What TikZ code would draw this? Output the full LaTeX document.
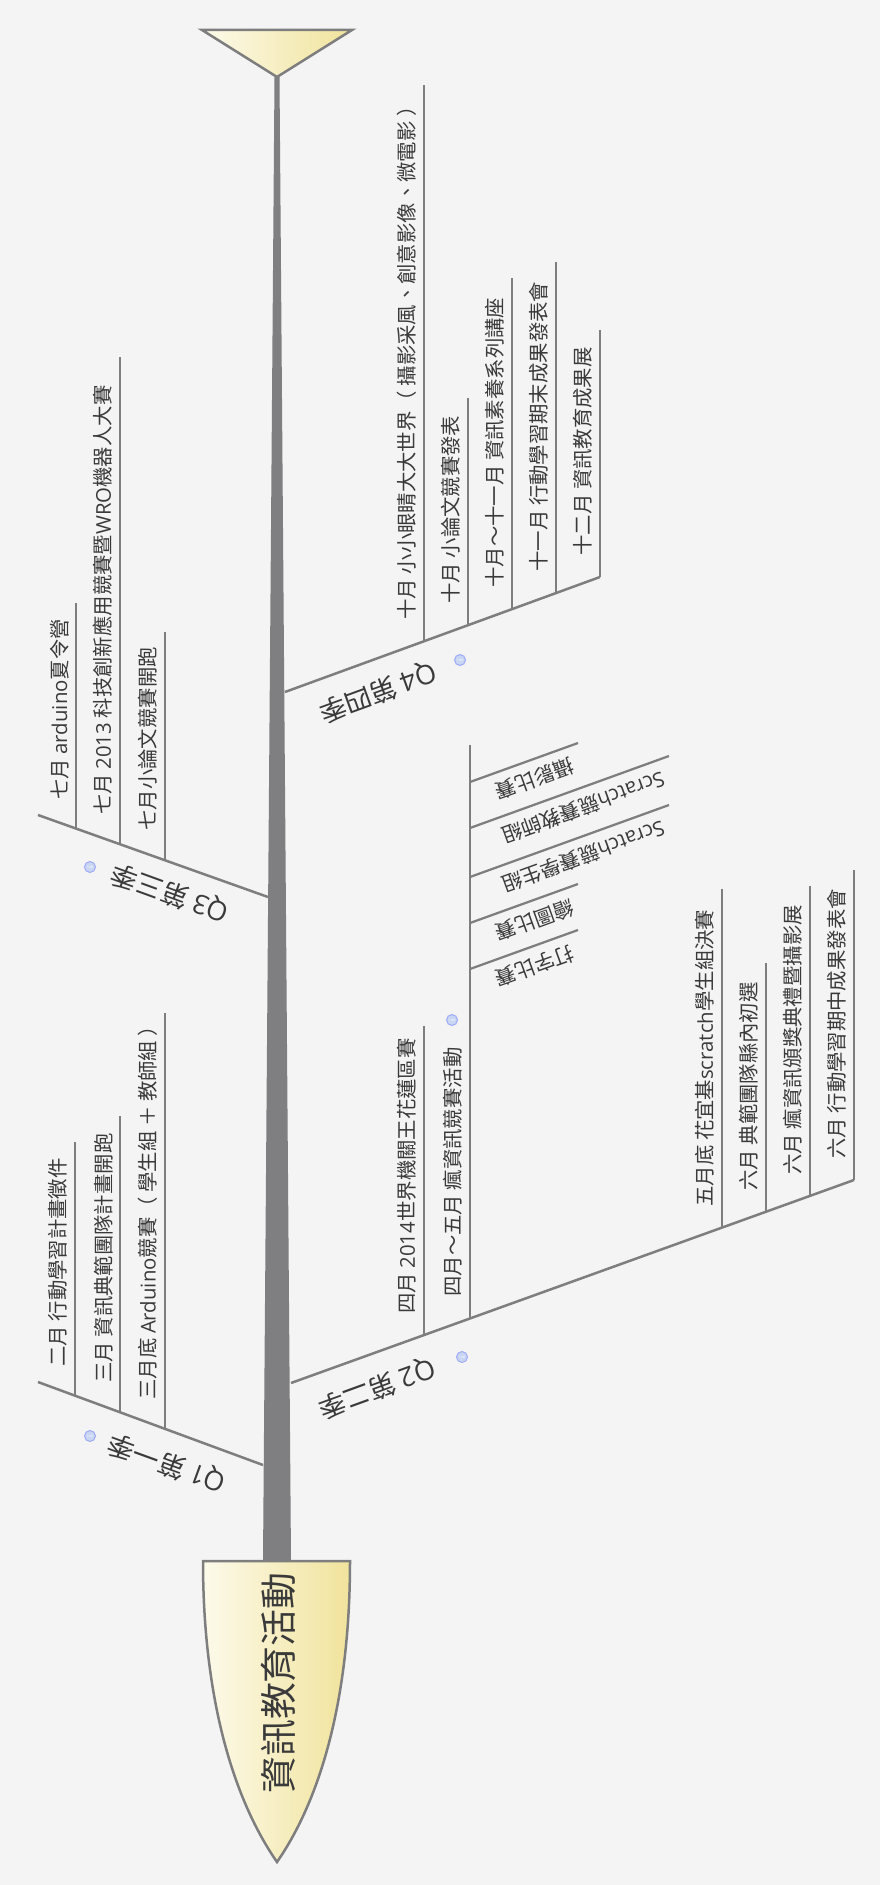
\documentclass[tikz,border=0pt]{standalone}
\usepackage{fontspec}
\setmainfont{Noto Sans CJK TC}
\newfontfamily\enFont{Open Sans}
\newcommand{\en}[1]{{\enFont #1}}
\usepackage{tikz}
\usetikzlibrary{shapes}
\definecolor{bgGray}{HTML}{F4F4F4}
\definecolor{lineGray}{HTML}{7E7E7E}
\definecolor{spineGray}{HTML}{7F7F82}
\definecolor{textGray}{HTML}{3A3A3A}
\definecolor{headLight}{HTML}{FCFAEA}
\definecolor{headDark}{HTML}{F1E39C}
\definecolor{infoBlue}{HTML}{C8D5F3}
\newcommand{\topicSize}{\fontsize{11.6pt}{14pt}\selectfont}
\newcommand{\seasonSize}{\fontsize{15.3pt}{18pt}\selectfont}
\newcommand{\headSize}{\fontsize{21pt}{25pt}\selectfont}
\tikzstyle{bone} = [draw=lineGray, line width=0.05cm]
\tikzstyle{rib} = [draw=lineGray, line width=0.045cm]
\tikzstyle{fishHead} = [draw=lineGray, line width=0.05cm, left color=headLight, right color=headDark]
\tikzstyle{topic} = [anchor=south west, rotate=90, inner xsep=0.42cm, inner ysep=0.14cm, text=textGray, font=\topicSize]
\tikzstyle{topicLeft} = [topic, inner xsep=0.58cm]
\tikzstyle{twig} = [anchor=south west, rotate=200, inner xsep=0.24cm, inner ysep=0.19cm, text=textGray, font=\topicSize]
\tikzstyle{season} = [inner sep=0, text=textGray, font=\seasonSize]
\tikzstyle{info} = [circle, rotate=90, fill=infoBlue, draw=infoBlue!80!blue, line width=0.02cm, minimum size=0.22cm, inner sep=0, text=white, font=\fontsize{4.5pt}{5pt}\selectfont]

\begin{document}
\begin{tikzpicture}[x=0.02cm, y=-0.02cm]
        \fill [bgGray] (0,0) rectangle (880,1885);
        \useasboundingbox (0,0) rectangle (880,1885);

        \coordinate (tailTip) at (277,77);
        \coordinate (spineTopL) at (274.5,77);
        \coordinate (spineTopR) at (279.5,77);
        \coordinate (spineBotL) at (263,1561);
        \coordinate (spineBotR) at (291,1561);
        \fill [spineGray] (spineTopL) -- (spineTopR) -- (spineBotR) -- (spineBotL) -- cycle;
        \path [fishHead] (202,30) -- (352,30) -- (tailTip) -- cycle;
        \path [fishHead] (203,1561) -- (350,1561) .. controls (350,1700) and (320,1800) .. (277,1862) .. controls (234,1800) and (203,1700) .. (203,1561) -- cycle;
        \node [rotate=90, text=textGray, font=\headSize] (head) at (278,1683) {資訊教育活動};

        \coordinate (q1Root) at (263,1465);
        \coordinate (q1End) at (38,1382);
        \coordinate (q1a) at (75,1396);
        \coordinate (q1aTop) at (75,1142);
        \coordinate (q1b) at (120,1412);
        \coordinate (q1bTop) at (120,1116);
        \coordinate (q1c) at (165,1429);
        \coordinate (q1cTop) at (165,1013);
        \node [season, rotate=160] (q1Label) at (167,1463) {\en{Q1} 第一季};
        \node [info] (q1Info) at (90,1436) {i};
        \node [topicLeft] (q1aText) at (q1a) {二月 行動學習計畫徵件};
        \node [topicLeft] (q1bText) at (q1b) {三月 資訊典範團隊計畫開跑};
        \node [topicLeft] (q1cText) at (q1c) {三月底 \en{Arduino}競賽（ 學生組 ＋ 教師組 ）};
        \path [bone] (q1Root) edge (q1End);
        \path [rib] (q1a) edge (q1aTop);
        \path [rib] (q1b) edge (q1bTop);
        \path [rib] (q1c) edge (q1cTop);

        \coordinate (q2Root) at (291,1383);
        \coordinate (q2End) at (854,1180);
        \coordinate (q2a) at (424,1335);
        \coordinate (q2aTop) at (424,1026);
        \coordinate (q2b) at (470,1318);
        \coordinate (q2bTop) at (470,745);
        \coordinate (q2c) at (722,1228);
        \coordinate (q2cTop) at (722,889);
        \coordinate (q2d) at (766,1212);
        \coordinate (q2dTop) at (766,963);
        \coordinate (q2e) at (810,1196);
        \coordinate (q2eTop) at (810,886);
        \coordinate (q2fTop) at (854,870);
        \node [season, rotate=200] (q2Label) at (377,1388) {\en{Q2} 第二季};
        \node [info] (q2Info) at (462,1357) {i};
        \node [topic] (q2aText) at (q2a) {四月 \en{2014}世界機關王花蓮區賽};
        \node [topic] (q2bText) at (q2b) {四月～五月 瘋資訊競賽活動};
        \node [info] (q2bInfo) at (452,1020) {i};
        \node [topic] (q2cText) at (q2c) {五月底 花宜基\en{scratch}學生組決賽};
        \node [topic] (q2dText) at (q2d) {六月 典範團隊縣內初選};
        \node [topic] (q2eText) at (q2e) {六月 瘋資訊頒獎典禮暨攝影展};
        \node [topic] (q2fText) at (q2End) {六月 行動學習期中成果發表會};
        \path [bone] (q2Root) edge (q2End);
        \path [rib] (q2a) edge (q2aTop);
        \path [rib] (q2b) edge (q2bTop);
        \path [rib] (q2c) edge (q2cTop);
        \path [rib] (q2d) edge (q2dTop);
        \path [rib] (q2e) edge (q2eTop);
        \path [rib] (q2End) edge (q2fTop);

        \coordinate (tw1a) at (470,782);
        \coordinate (tw1b) at (578,743);
        \coordinate (tw2a) at (470,828);
        \coordinate (tw2b) at (669,756);
        \coordinate (tw3a) at (470,877);
        \coordinate (tw3b) at (669,805);
        \coordinate (tw4a) at (470,923);
        \coordinate (tw4b) at (578,884);
        \coordinate (tw5a) at (470,969);
        \coordinate (tw5b) at (578,930);
        \node [twig] (tw1Text) at (tw1b) {攝影比賽};
        \node [twig] (tw2Text) at (tw2b) {\en{Scratch}競賽教師組};
        \node [twig] (tw3Text) at (tw3b) {\en{Scratch}競賽學生組};
        \node [twig] (tw4Text) at (tw4b) {繪圖比賽};
        \node [twig] (tw5Text) at (tw5b) {打字比賽};
        \path [rib] (tw1a) edge (tw1b);
        \path [rib] (tw2a) edge (tw2b);
        \path [rib] (tw3a) edge (tw3b);
        \path [rib] (tw4a) edge (tw4b);
        \path [rib] (tw5a) edge (tw5b);

        \coordinate (q3Root) at (268,897);
        \coordinate (q3End) at (38,815);
        \coordinate (q3a) at (76,829);
        \coordinate (q3aTop) at (76,603);
        \coordinate (q3b) at (120,844);
        \coordinate (q3bTop) at (120,357);
        \coordinate (q3c) at (165,860);
        \coordinate (q3cTop) at (165,632);
        \node [season, rotate=160] (q3Label) at (170,893) {\en{Q3} 第三季};
        \node [info] (q3Info) at (90,867) {i};
        \node [topicLeft] (q3aText) at (q3a) {七月 \en{arduino}夏令營};
        \node [topicLeft] (q3bText) at (q3b) {七月 \en{2013} 科技創新應用競賽暨\en{WRO}機器人大賽};
        \node [topicLeft] (q3cText) at (q3c) {七月小論文競賽開跑};
        \path [bone] (q3Root) edge (q3End);
        \path [rib] (q3a) edge (q3aTop);
        \path [rib] (q3b) edge (q3bTop);
        \path [rib] (q3c) edge (q3cTop);

        \coordinate (q4Root) at (285,692);
        \coordinate (q4End) at (600,577);
        \coordinate (q4a) at (424,641);
        \coordinate (q4aTop) at (424,85);
        \coordinate (q4b) at (468,625);
        \coordinate (q4bTop) at (468,398);
        \coordinate (q4c) at (512,609);
        \coordinate (q4cTop) at (512,278);
        \coordinate (q4d) at (556,593);
        \coordinate (q4dTop) at (556,262);
        \coordinate (q4eTop) at (600,330);
        \node [season, rotate=200] (q4Label) at (378,692) {\en{Q4} 第四季};
        \node [info] (q4Info) at (460,660) {i};
        \node [topic] (q4aText) at (q4a) {十月 小小眼睛大大世界（ 攝影采風、創意影像、微電影 ）};
        \node [topic] (q4bText) at (q4b) {十月 小論文競賽發表};
        \node [topic] (q4cText) at (q4c) {十月～十一月 資訊素養系列講座};
        \node [topic] (q4dText) at (q4d) {十一月 行動學習期末成果發表會};
        \node [topic] (q4eText) at (q4End) {十二月 資訊教育成果展};
        \path [bone] (q4Root) edge (q4End);
        \path [rib] (q4a) edge (q4aTop);
        \path [rib] (q4b) edge (q4bTop);
        \path [rib] (q4c) edge (q4cTop);
        \path [rib] (q4d) edge (q4dTop);
        \path [rib] (q4End) edge (q4eTop);
    \end{tikzpicture}
\end{document}
